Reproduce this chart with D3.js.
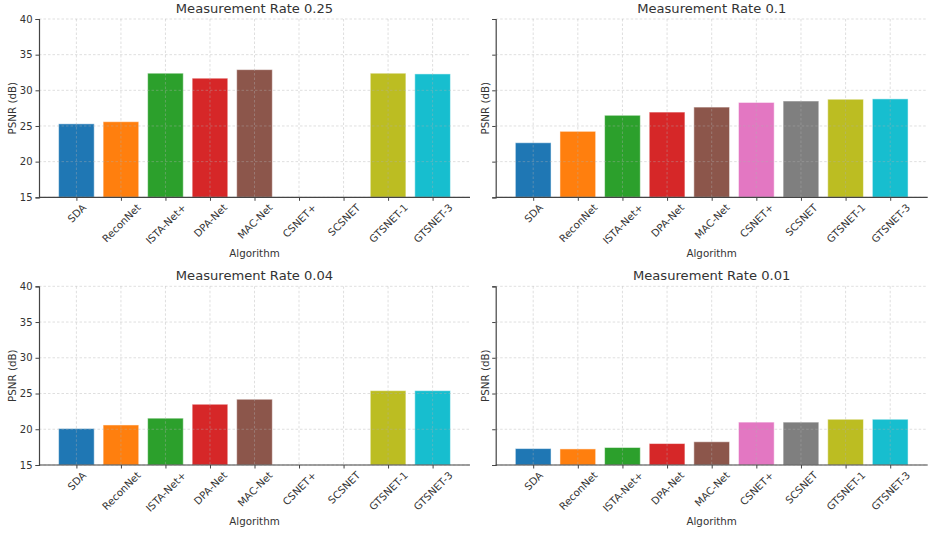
<!DOCTYPE html>
<html>
<head>
<meta charset="utf-8">
<script src="https://cdn.jsdelivr.net/npm/d3@7"></script>
<style>
  html, body { margin: 0; padding: 0; background: #fff; }
  svg { display: block; font-family: "DejaVu Sans", sans-serif; }
</style>
</head>
<body>
<svg id="chart" width="929" height="534"></svg>
<script>
// Algorithms compared in every panel
const algorithms = ["SDA", "ReconNet", "ISTA-Net+", "DPA-Net", "MAC-Net", "CSNET+", "SCSNET", "GTSNET-1", "GTSNET-3"];
const colors = ["#1f77b4", "#ff7f0e", "#2ca02c", "#d62728", "#8c564b", "#e377c2", "#7f7f7f", "#bcbd22", "#17becf"];

// PSNR (dB) per measurement rate; null = not reported
const psnr025 = [25.3, 25.6, 32.4, 31.7, 32.9, null, null, 32.4, 32.3];
const psnr010 = [22.65, 24.25, 26.5, 26.95, 27.65, 28.3, 28.5, 28.75, 28.8];
const psnr004 = [20.1, 20.6, 21.55, 23.5, 24.2, null, null, 25.4, 25.4];
const psnr001 = [17.3, 17.25, 17.45, 18.0, 18.25, 21.0, 21.0, 21.4, 21.4];

const panelTitles = ["Measurement Rate 0.25", "Measurement Rate 0.1", "Measurement Rate 0.04", "Measurement Rate 0.01"];
const yTicks = [15, 20, 25, 30, 35, 40];
const yDomain = [15, 40];

const panels = [
  { title: panelTitles[0], values: psnr025, x0: 39,    x1: 470,   y0: 19,    y1: 197.3, showY: true },
  { title: panelTitles[1], values: psnr010, x0: 495.7, x1: 927.7, y0: 19,    y1: 197.3, showY: false },
  { title: panelTitles[2], values: psnr004, x0: 39,    x1: 470,   y0: 286.3, y1: 465,   showY: true },
  { title: panelTitles[3], values: psnr001, x0: 495.7, x1: 927.7, y0: 286.3, y1: 465,   showY: false }
];

const svg = d3.select("#chart");
const textColor = "#333";
const spineColor = "#444";
const tickFont = 10.2;

panels.forEach(p => {
  const g = svg.append("g");
  const n = algorithms.length;
  // bar layout: width 0.8 per category, 5% margins on each side
  const span = (n - 1) + 0.8;
  const lo = -0.4 - 0.05 * span, hi = (n - 1) + 0.4 + 0.05 * span;
  const xLin = d3.scaleLinear().domain([lo, hi]).range([p.x0, p.x1]);
  const y = d3.scaleLinear().domain(yDomain).range([p.y1, p.y0]);

  // bars
  g.selectAll("rect.bar")
    .data(p.values.map((v, i) => ({ v, i })).filter(d => d.v != null))
    .join("rect")
    .attr("class", "bar")
    .attr("x", d => xLin(d.i - 0.4))
    .attr("width", d => xLin(d.i + 0.4) - xLin(d.i - 0.4))
    .attr("y", d => y(d.v))
    .attr("height", d => y(yDomain[0]) - y(d.v))
    .attr("fill", d => colors[d.i])
    .attr("stroke", "#fff")
    .attr("stroke-opacity", 0.5)
    .attr("stroke-width", 1);

  // grid (drawn over bars)
  const grid = g.append("g").attr("stroke", "#b0b0b0").attr("stroke-opacity", 0.5)
    .attr("stroke-width", 0.8).attr("stroke-dasharray", "2.5,2");
  grid.selectAll("line.h").data(yTicks).join("line").attr("class", "h")
    .attr("x1", p.x0).attr("x2", p.x1).attr("y1", d => y(d)).attr("y2", d => y(d));
  grid.selectAll("line.v").data(d3.range(n)).join("line").attr("class", "v")
    .attr("x1", d => xLin(d)).attr("x2", d => xLin(d)).attr("y1", p.y0).attr("y2", p.y1);

  // y axis
  const yAxis = d3.axisLeft(y).tickValues(yTicks).tickSize(3.5).tickPadding(3)
    .tickFormat(p.showY ? d3.format("d") : () => "");
  const ya = g.append("g").attr("transform", `translate(${p.x0},0)`).call(yAxis);
  ya.select(".domain").attr("stroke", spineColor).attr("stroke-width", 1.2);
  ya.selectAll(".tick line").attr("stroke", spineColor);
  ya.selectAll(".tick text").attr("fill", textColor).style("font-size", "10px")
    .style("font-family", "DejaVu Sans");

  // x axis: labels rotated 45°, their rotated box centred under the tick
  const xBand = d3.scalePoint().domain(algorithms).range([xLin(0), xLin(n - 1)]);
  const xAxis = d3.axisBottom(xBand).tickSize(3.5).tickPadding(2);
  const xa = g.append("g").attr("transform", `translate(0,${p.y1})`).call(xAxis);
  xa.select(".domain").attr("d", `M${p.x0},0H${p.x1}`).attr("stroke", spineColor).attr("stroke-width", 1.2);
  xa.selectAll(".tick line").attr("stroke", spineColor);
  xa.selectAll(".tick text")
    .attr("fill", textColor)
    .style("font-size", tickFont + "px").style("font-family", "DejaVu Sans")
    .attr("text-anchor", "middle")
    .attr("dy", "0.35em")
    .attr("x", 0).attr("y", 0)
    .attr("transform", function () {
      const len = this.getComputedTextLength() || this.textContent.length * tickFont * 0.62;
      const half = (len + tickFont * 0.95) * Math.SQRT1_2 / 2;
      return `translate(0,${3.5 + 1.5 + half}) rotate(-45)`;
    });

  // title
  g.append("text")
    .attr("x", (p.x0 + p.x1) / 2).attr("y", p.y0 - 6)
    .attr("text-anchor", "middle").attr("fill", textColor)
    .style("font-size", "13.1px").text(p.title);

  // axis labels
  g.append("text")
    .attr("x", (p.x0 + p.x1) / 2).attr("y", p.y1 + 60)
    .attr("text-anchor", "middle").attr("fill", textColor)
    .style("font-size", "10.3px").text("Algorithm");
  g.append("text")
    .attr("transform", `translate(${p.x0 - (p.showY ? 27 : 10.7)},${(p.y0 + p.y1) / 2}) rotate(-90)`)
    .attr("text-anchor", "middle").attr("dy", "0.35em").attr("fill", textColor)
    .style("font-size", "10.3px").text("PSNR (dB)");
});
</script>
</body>
</html>
